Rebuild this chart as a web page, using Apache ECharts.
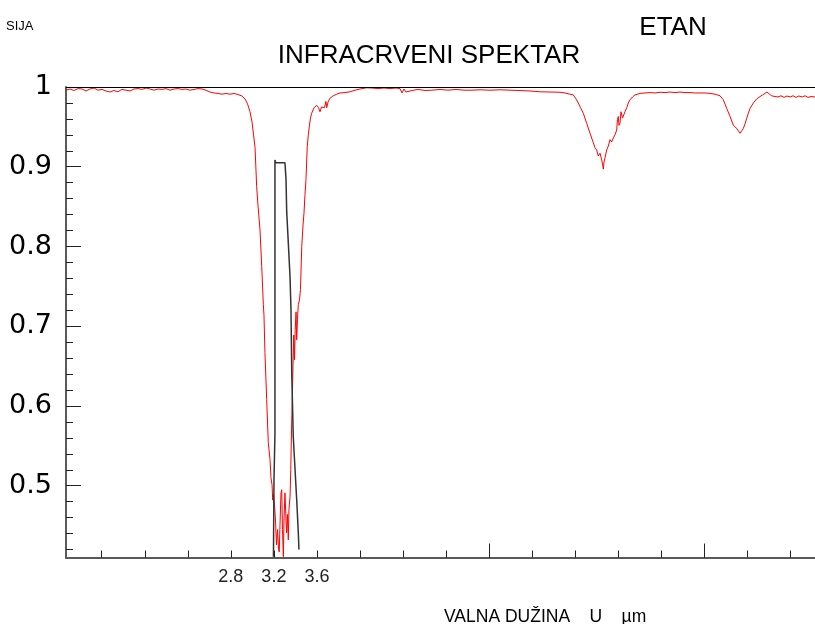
<!DOCTYPE html>
<html>
<head>
<meta charset="utf-8">
<script src="https://cdn.jsdelivr.net/npm/echarts@6/dist/echarts.min.js"></script>
<style>html,body{margin:0;padding:0;background:#fff}#c{width:815px;height:624px}</style>
</head>
<body>
<div id="c"></div>
<script>
// Wavelength range (µm) and transmittance range
const xRange = [1.268, 8.229];
const yRange = [0.41, 1];
const xMinorTicks = [1.6,2.0,2.4,2.8,3.2,3.6,4.0,4.4,4.8,5.2,5.6,6.0,6.4,6.8,7.2,7.6,8.0];
const xMajorTicks = [5.2, 7.2];
const xTickLabels = [2.8, 3.2, 3.6];
const yMinorTicks = [0.42,0.44,0.46,0.48,0.52,0.54,0.56,0.58,0.62,0.64,0.66,0.68,0.72,0.74,0.76,0.78,0.82,0.84,0.86,0.88,0.92,0.94,0.96,0.98];
const yMajorTicks = [0.5,0.6,0.7,0.8,0.9,1];
const yTickLabels = [0.5,0.6,0.7,0.8,0.9,1];

// Ethane IR spectrum (red)
const spectrum = [[1.268,0.996],[1.305,0.9975],[1.342,0.9956],[1.380,0.998],[1.417,0.9975],[1.454,0.995],[1.491,0.9975],[1.528,0.9987],[1.565,0.996],[1.603,0.997],[1.640,0.995],[1.677,0.9937],[1.714,0.9956],[1.751,0.994],[1.788,0.997],[1.826,0.996],[1.863,0.995],[1.900,0.9975],[1.937,0.998],[1.974,0.997],[2.011,0.9987],[2.049,0.9975],[2.086,0.996],[2.123,0.9975],[2.160,0.997],[2.197,0.998],[2.235,0.996],[2.272,0.9975],[2.309,0.998],[2.346,0.997],[2.383,0.9975],[2.420,0.996],[2.458,0.997],[2.495,0.998],[2.532,0.9975],[2.569,0.996],[2.606,0.9937],[2.643,0.9925],[2.681,0.9919],[2.718,0.991],[2.755,0.9919],[2.792,0.991],[2.829,0.9919],[2.866,0.9906],[2.904,0.9887],[2.932,0.985],[2.955,0.979],[2.978,0.969],[2.997,0.956],[3.011,0.940],[3.025,0.924],[3.040,0.875],[3.052,0.852],[3.071,0.821],[3.087,0.775],[3.102,0.727],[3.108,0.714],[3.117,0.667],[3.133,0.608],[3.148,0.554],[3.164,0.533],[3.173,0.510],[3.183,0.501],[3.189,0.482],[3.196,0.489],[3.206,0.476],[3.215,0.457],[3.224,0.426],[3.234,0.445],[3.243,0.420],[3.250,0.417],[3.257,0.451],[3.266,0.491],[3.273,0.495],[3.280,0.445],[3.288,0.411],[3.294,0.457],[3.303,0.491],[3.313,0.457],[3.319,0.441],[3.326,0.464],[3.334,0.432],[3.340,0.470],[3.350,0.486],[3.357,0.520],[3.364,0.570],[3.371,0.608],[3.378,0.652],[3.385,0.689],[3.392,0.658],[3.398,0.695],[3.406,0.718],[3.412,0.683],[3.419,0.708],[3.427,0.727],[3.438,0.733],[3.447,0.746],[3.459,0.800],[3.471,0.827],[3.480,0.842],[3.489,0.865],[3.498,0.883],[3.510,0.925],[3.520,0.940],[3.529,0.950],[3.540,0.961],[3.551,0.967],[3.573,0.974],[3.598,0.977],[3.615,0.974],[3.629,0.969],[3.643,0.975],[3.659,0.977],[3.670,0.974],[3.684,0.982],[3.691,0.974],[3.703,0.981],[3.722,0.986],[3.749,0.9887],[3.784,0.991],[3.815,0.9925],[3.861,0.993],[3.907,0.994],[3.954,0.996],[4.000,0.9975],[4.063,0.999],[4.112,0.9987],[4.168,0.998],[4.223,0.9987],[4.279,0.998],[4.335,0.9987],[4.372,0.998],[4.391,0.9925],[4.409,0.9975],[4.428,0.9937],[4.446,0.996],[4.484,0.9956],[4.539,0.997],[4.604,0.9956],[4.669,0.996],[4.744,0.997],[4.818,0.996],[4.892,0.997],[4.967,0.996],[5.041,0.996],[5.116,0.9965],[5.209,0.996],[5.302,0.9965],[5.394,0.996],[5.487,0.9956],[5.580,0.995],[5.673,0.994],[5.766,0.9937],[5.859,0.9934],[5.905,0.9925],[5.952,0.991],[5.983,0.990],[6.008,0.985],[6.029,0.980],[6.050,0.974],[6.076,0.967],[6.107,0.9545],[6.138,0.942],[6.169,0.930],[6.184,0.924],[6.200,0.921],[6.215,0.9135],[6.231,0.917],[6.247,0.9085],[6.254,0.9035],[6.262,0.897],[6.268,0.906],[6.277,0.911],[6.293,0.921],[6.308,0.926],[6.324,0.934],[6.339,0.931],[6.355,0.936],[6.370,0.940],[6.386,0.946],[6.393,0.959],[6.401,0.963],[6.407,0.952],[6.417,0.955],[6.426,0.969],[6.432,0.969],[6.440,0.961],[6.447,0.959],[6.463,0.969],[6.479,0.974],[6.494,0.980],[6.510,0.984],[6.533,0.9875],[6.556,0.990],[6.603,0.992],[6.649,0.9925],[6.696,0.993],[6.742,0.9925],[6.789,0.9934],[6.835,0.993],[6.881,0.9937],[6.928,0.993],[6.974,0.9937],[7.021,0.993],[7.067,0.993],[7.114,0.9925],[7.160,0.9925],[7.207,0.9925],[7.253,0.992],[7.300,0.991],[7.346,0.989],[7.377,0.984],[7.409,0.973],[7.440,0.963],[7.470,0.952],[7.502,0.948],[7.517,0.945],[7.533,0.942],[7.548,0.945],[7.563,0.948],[7.579,0.954],[7.595,0.961],[7.609,0.967],[7.625,0.973],[7.656,0.980],[7.687,0.985],[7.718,0.988],[7.741,0.990],[7.764,0.992],[7.783,0.9937],[7.795,0.996],[7.806,0.991],[7.827,0.989],[7.857,0.988],[7.885,0.9875],[7.913,0.989],[7.941,0.987],[7.969,0.9887],[7.997,0.9875],[8.025,0.989],[8.052,0.987],[8.080,0.9887],[8.110,0.9875],[8.136,0.989],[8.164,0.987],[8.192,0.988],[8.229,0.9875]];

// Black slit/band profile
const slit = [[3.196,0.411],[3.201,0.5075],[3.210,0.566],[3.210,0.9085],[3.217,0.905],[3.303,0.905],[3.313,0.8835],[3.319,0.844],[3.334,0.8045],[3.350,0.762],[3.359,0.7206],[3.366,0.6416],[3.380,0.5618],[3.412,0.4825],[3.427,0.441],[3.433,0.420]];

const refLine = 1;

const chart = echarts.init(document.getElementById('c'), null, {renderer: 'canvas'});
const axisCol = '#5a5a5a';
chart.setOption({
  animation: false,
  backgroundColor: '#fff',
  title: [
    {text: 'SIJA', left: 1, top: 15, textStyle: {fontFamily: 'Liberation Sans', fontSize: 13, fontWeight: 'normal', color: '#000'}},
    {text: 'ETAN', left: 668, top: 10, textAlign: 'center', textStyle: {fontFamily: 'Liberation Sans', fontSize: 26, fontWeight: 'normal', color: '#000'}},
    {text: 'INFRACRVENI SPEKTAR', left: 424, top: 38, textAlign: 'center', textStyle: {fontFamily: 'Liberation Sans', fontSize: 26, fontWeight: 'normal', color: '#000'}},
    {text: 'VALNA DUŽINA    U    µm', left: 439, top: 603, textStyle: {fontFamily: 'Liberation Sans', fontSize: 17.5, fontWeight: 'normal', color: '#000'}}
  ],
  grid: {left: 66, right: 0, top: 87, bottom: 66.5, containLabel: false, outerBoundsMode: 'none'},
  xAxis: [
    {type: 'value', min: xRange[0], max: xRange[1], position: 'bottom',
     axisLine: {show: true, lineStyle: {color: axisCol, width: 2}},
     axisTick: {show: true, inside: true, length: 7, customValues: xMinorTicks, lineStyle: {color: '#222', width: 1}},
     axisLabel: {show: true, customValues: xTickLabels, margin: 11, fontFamily: 'Liberation Sans', fontSize: 18, color: '#222',
       formatter: v => v.toFixed(1)},
     splitLine: {show: false}},
    {type: 'value', min: xRange[0], max: xRange[1], position: 'bottom',
     axisLine: {show: false},
     axisTick: {show: true, inside: true, length: 14, customValues: xMajorTicks, lineStyle: {color: '#222', width: 1}},
     axisLabel: {show: false},
     splitLine: {show: false}}
  ],
  yAxis: [
    {type: 'value', min: yRange[0], max: yRange[1], position: 'left',
     axisLine: {show: true, lineStyle: {color: axisCol, width: 2}},
     axisTick: {show: true, inside: true, length: 7, customValues: yMinorTicks, lineStyle: {color: '#222', width: 1}},
     axisLabel: {show: true, customValues: yTickLabels, margin: 14, fontFamily: 'DejaVu Sans', fontSize: 27, color: '#000',
       formatter: v => (Math.abs(v - 1) < 1e-9 ? '1' : v.toFixed(1))},
     splitLine: {show: false}},
    {type: 'value', min: yRange[0], max: yRange[1], position: 'left',
     axisLine: {show: false},
     axisTick: {show: true, inside: true, length: 15, customValues: yMajorTicks, lineStyle: {color: '#222', width: 1}},
     axisLabel: {show: false},
     splitLine: {show: false}}
  ],
  series: [
    {type: 'line', data: spectrum, xAxisIndex: 0, yAxisIndex: 0, showSymbol: false, symbol: 'none',
     lineStyle: {color: '#ff0000', width: 1}, z: 3,
     markLine: {silent: true, symbol: ['none','none'], label: {show: false},
       lineStyle: {color: '#000', width: 1.2, type: 'solid'}, data: [{yAxis: refLine}]}},
    {type: 'line', data: slit, xAxisIndex: 0, yAxisIndex: 0, showSymbol: false, symbol: 'none',
     lineStyle: {color: '#333', width: 1.5}, z: 4}
  ]
});
</script>
</body>
</html>
